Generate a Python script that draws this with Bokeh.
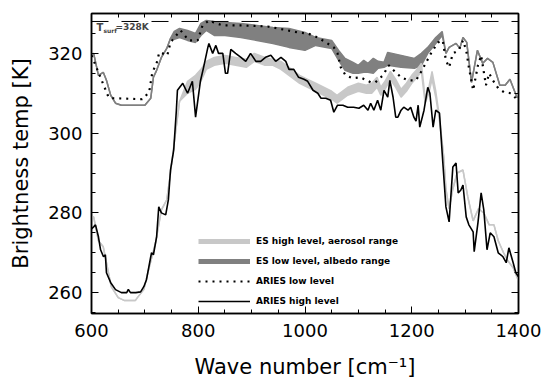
from bokeh.plotting import figure
from bokeh.models import (Range1d, LinearAxis, SingleIntervalTicker, Legend, LegendItem,
                          Label, Span)
from bokeh.embed import file_html
from bokeh.resources import INLINE

# ---------------- data ----------------
t_surf = 328.0

aries_high_wn = [600, 604, 607.5, 613, 617, 622.5, 626, 628, 636, 645, 656, 666, 669, 673, 683, 692,
                 698, 703, 711, 712.5, 716, 722, 726, 731, 739, 744, 748, 754, 759, 761, 771, 780,
                 789, 795, 804, 810, 818, 820, 827, 833, 838, 846, 851, 855, 861, 870, 880, 889,
                 898, 908, 917, 926, 936, 945, 955, 964, 970, 979, 988, 998, 1005, 1015, 1024,
                 1030, 1039, 1048, 1054, 1061, 1071, 1080, 1091, 1101, 1110, 1118, 1123, 1129,
                 1136, 1142, 1148, 1155, 1159, 1165, 1170, 1174, 1180, 1185, 1193, 1198, 1204,
                 1208, 1212, 1215, 1223, 1230, 1234, 1240, 1245, 1252, 1258, 1264, 1270, 1277,
                 1283, 1287, 1292, 1296, 1302, 1307, 1315, 1317, 1324, 1330, 1335, 1341, 1347,
                 1354, 1362, 1371, 1377, 1382, 1390, 1395, 1400]
aries_high_tb = [276, 276.5, 277, 274, 270.75, 269, 269.5, 265, 262.5, 260.75, 260, 260, 260.8, 260,
                 260, 260.2, 261.5, 263.25, 269, 270, 269.5, 274, 281.5, 280, 279.5, 283.25,
                 290.75, 295.75, 305.75, 310.75, 312.5, 310, 313, 304, 313, 316.5, 321.5, 322.5,
                 320, 322, 320, 320, 315, 315, 321, 320, 319, 318, 320, 318, 318, 319, 319.5, 318,
                 319, 318, 316, 316, 314, 313.5, 313, 310.75, 310, 308.75, 308.75, 308.25, 305.25,
                 307, 307, 306.5, 306.5, 306.25, 307, 305.75, 307.5, 305.75, 308.25, 305.75,
                 310.75, 309, 313.25, 309, 304, 304, 305.75, 306.5, 305.75, 306.5, 304, 303, 307,
                 301.5, 305.75, 311.5, 310, 301.5, 305.75, 305, 293, 281.5, 277.75, 291.5, 292.5,
                 285, 285.75, 287, 279, 277, 275.25, 270.25, 277.5, 285, 280.75, 270.75, 275, 274,
                 270, 269, 267.5, 271.25, 267.5, 265, 264]

aries_low_wn = [600, 613, 619, 632, 641, 695, 708, 714, 722, 727, 733, 742, 748, 754, 767, 782, 799,
                808, 820, 829, 846, 880, 930, 968, 987, 1005, 1024, 1054, 1061, 1067, 1076, 1089,
                1104, 1123, 1132, 1146, 1157, 1166, 1180, 1193, 1208, 1217, 1236, 1249, 1258,
                1264, 1270, 1277, 1288, 1296, 1302, 1307, 1315, 1324, 1330, 1339, 1345, 1352,
                1362, 1373, 1386, 1395, 1400]
aries_low_tb = [319.5, 315.25, 313.25, 309, 308.75, 308.5, 310.25, 315.25, 317.5, 320.25, 320,
                319.5, 322.75, 323.75, 325.75, 323.25, 323.25, 327, 328.25, 327.75, 327, 327,
                326.75, 325.75, 325.25, 325, 324, 321.5, 320, 316.5, 314.5, 313.75, 314, 312.75,
                312.75, 314.5, 317, 315.75, 314, 313.25, 313.25, 315.25, 320, 322.75, 323.25,
                318.25, 316.5, 320, 320.75, 323.25, 320.75, 316.5, 310.75, 317, 319.5, 312, 315,
                313.25, 311.25, 310.25, 310, 308.75, 308.5]

# ES high level, aerosol range (light grey): lower / upper edge
es_high_wn = [600, 604, 613, 622, 628, 637, 650, 662, 682, 686, 698, 707, 720, 731, 741, 748, 758,
              765, 780, 795, 805, 815, 830, 850, 870, 890, 905, 925, 940, 955, 970, 990, 1005,
              1020, 1035, 1050, 1060, 1070, 1080, 1100, 1115, 1125, 1135, 1142, 1150, 1160, 1170,
              1180, 1190, 1200, 1210, 1218, 1225, 1232, 1238, 1245, 1252, 1260, 1264, 1270, 1277,
              1285, 1296, 1305, 1315, 1325, 1335, 1345, 1354, 1362, 1372, 1380, 1390, 1400]
es_high_lo = [279, 279, 273, 271.5, 267.5, 261.5, 258.75, 258, 258, 258.75, 260.75, 265.75, 272.5,
              280.75, 283.25, 290, 300.75, 308, 310, 311, 313, 316, 317, 317.5, 317, 316.5, 318,
              317, 317, 316, 314.5, 312.5, 311.5, 310.5, 309.5, 308.5, 307.5, 308.5, 309.5, 310.5,
              310, 310, 311.5, 309.5, 311, 313.5, 311.5, 309, 310.5, 312.5, 314, 315.5, 307.5, 310,
              313.5, 309, 303, 294, 286, 281, 286, 290, 290.75, 284, 278, 281, 280, 277, 277, 273,
              270, 268, 266.25, 263]
es_high_hi = [279, 279, 273, 271.5, 267.5, 261.5, 258.75, 258, 258, 258.75, 260.75, 265.75, 272.5,
              280.75, 283.25, 290, 300.75, 308, 313, 314.5, 316, 318, 319, 319.5, 319, 318.5, 320,
              319, 318.5, 318, 316.5, 314.5, 313.5, 312.5, 311.5, 310.5, 309.5, 310.5, 311.5, 312.5,
              312, 312.5, 314, 311.5, 313, 315.5, 313.5, 311, 312.5, 314.5, 316, 317.5, 309, 311.5,
              315.5, 310.5, 304, 294, 286, 281, 286, 290, 290.75, 284, 278, 281, 280, 277, 277, 273,
              270, 268, 266.25, 263]

# ES low level, albedo range (dark grey): lower / upper edge
es_low_wn = [600, 604, 613, 622, 628, 636, 645, 656, 700, 711, 716, 722, 731, 741, 748, 755, 765,
             780, 795, 805, 815, 830, 850, 880, 910, 940, 970, 1000, 1020, 1050, 1063, 1075, 1090,
             1100, 1110, 1118, 1128, 1137, 1148, 1155, 1180, 1205, 1218, 1230, 1245, 1257, 1264,
             1270, 1283, 1290, 1296, 1303, 1312, 1323, 1333, 1342, 1352, 1365, 1375, 1384, 1397,
             1400]
es_low_lo = [319.5, 320, 314.5, 315.25, 313.25, 309.5, 307.5, 307, 307, 308.75, 314, 315.75, 319,
             321.25, 323.75, 323.5, 324, 323.25, 322.75, 324.5, 325.75, 324.5, 324.5, 324, 323.25,
             322.5, 321.5, 320.75, 322, 321.25, 318.25, 315.75, 315, 315, 315.25, 315.25, 315,
             316.25, 316.5, 317, 316.5, 316.25, 317, 320, 322.5, 324.5, 320, 321.5, 322.5, 321.25,
             324, 322.75, 312.75, 320.75, 317.5, 318.75, 317.75, 312, 312, 313.5, 309, 309]
es_low_hi = [319.5, 320, 314.5, 315.25, 313.25, 309.5, 307.5, 307, 307, 308.75, 314, 315.75, 319,
             321.25, 323.75, 325.5, 326.25, 325.75, 325, 327.5, 328.25, 328, 327.75, 327.5, 327,
             326.5, 326.25, 325.25, 324, 323.25, 320.75, 318.75, 317.75, 317, 318.25, 317.5,
             318.75, 318, 317.75, 320.25, 319.5, 318.75, 320, 321.5, 324, 325.5, 320, 321.5,
             322.5, 321.25, 324, 322.75, 312.75, 320.75, 317.5, 318.75, 317.75, 312, 312, 313.5,
             309, 309]

x_ticks_major = 200
y_ticks_major = 20
legend_labels = ["ES high level, aerosol range", "ES low level, albedo range",
                 "ARIES low level", "ARIES high level"]

# ---------------- figure ----------------
LIGHT = "#c8c8c8"
DARK = "#808080"
FONT = "DejaVu Sans"

p = figure(width=544, height=381, x_range=Range1d(600, 1400), y_range=Range1d(254.77, 330),
           output_backend="svg", toolbar_location=None,
           min_border_left=91, min_border_right=26, min_border_top=13, min_border_bottom=66)
p.grid.visible = False
p.outline_line_color = "black"
p.outline_line_width = 1.5
p.background_fill_color = "white"
p.border_fill_color = "white"

xt = SingleIntervalTicker(interval=x_ticks_major, num_minor_ticks=4)
yt = SingleIntervalTicker(interval=y_ticks_major, num_minor_ticks=4)


def style_axis(ax, show_labels):
    ax.axis_line_color = "black"
    ax.axis_line_width = 1.5
    ax.major_tick_in = 7
    ax.major_tick_out = 0
    ax.minor_tick_in = 4
    ax.minor_tick_out = 0
    ax.major_tick_line_color = "black"
    ax.minor_tick_line_color = "black"
    ax.major_label_text_font = FONT
    ax.major_label_text_font_size = "18px" if show_labels else "0px"
    ax.major_label_text_color = "black" if show_labels else None
    ax.axis_label_text_font = FONT
    ax.axis_label_text_font_size = "21px"
    ax.axis_label_text_font_style = "normal"
    ax.axis_label_text_color = "black"


xa = p.xaxis[0]
xa.ticker = xt
style_axis(xa, True)
xa.axis_label = "Wave number [cm\u207b\u00b9]"
xa.major_label_standoff = 10
xa.axis_label_standoff = 15

ya = p.yaxis[0]
ya.ticker = yt
style_axis(ya, True)
ya.axis_label = "Brightness temp [K]"
ya.major_label_standoff = 9
ya.axis_label_standoff = 12

top = LinearAxis(ticker=xt)
style_axis(top, False)
p.add_layout(top, "above")
right = LinearAxis(ticker=yt)
style_axis(right, False)
p.add_layout(right, "right")

# bands
p.varea(x=es_low_wn, y1=es_low_lo, y2=es_low_hi, fill_color=DARK)
p.line(es_low_wn, es_low_lo, line_color=DARK, line_width=1.5)
p.line(es_low_wn, es_low_hi, line_color=DARK, line_width=1.5)
p.varea(x=es_high_wn, y1=es_high_lo, y2=es_high_hi, fill_color=LIGHT)
p.line(es_high_wn, es_high_lo, line_color=LIGHT, line_width=1.5)
p.line(es_high_wn, es_high_hi, line_color=LIGHT, line_width=1.5)

# ARIES
r_low = p.line(aries_low_wn, aries_low_tb, line_color="black", line_width=2.2, line_dash="2 5")
r_high = p.line(aries_high_wn, aries_high_tb, line_color="black", line_width=1.6)

# legend-only thick lines (hidden)
r_leg_high = p.line(es_high_wn, es_high_lo, line_color=LIGHT, line_width=5, visible=False)
r_leg_low = p.line(es_low_wn, es_low_lo, line_color=DARK, line_width=5, visible=False)

# surface temperature
p.add_layout(Span(location=t_surf, dimension="width", line_color="black", line_width=1,
                  line_dash="17 13"))
p.add_layout(Label(x=600, y=t_surf, x_offset=5, y_offset=-1, text="T", text_baseline="top",
                   text_font=FONT, text_font_size="10px", text_font_style="bold"))
p.add_layout(Label(x=600, y=t_surf, x_offset=12, y_offset=-6, text="surf", text_baseline="top",
                   text_font=FONT, text_font_size="6px", text_font_style="bold"))
p.add_layout(Label(x=600, y=t_surf, x_offset=24, y_offset=-1, text="=328K", text_baseline="top",
                   text_font=FONT, text_font_size="9px", text_font_style="bold"))

legend = Legend(items=[LegendItem(label=legend_labels[0], renderers=[r_leg_high]),
                       LegendItem(label=legend_labels[1], renderers=[r_leg_low]),
                       LegendItem(label=legend_labels[2], renderers=[r_low]),
                       LegendItem(label=legend_labels[3], renderers=[r_high])],
                location=(107, 5), glyph_width=52, glyph_height=14, label_height=14,
                spacing=6, padding=0, margin=0, label_standoff=6,
                label_text_font=FONT, label_text_font_size="9px", label_text_font_style="bold",
                label_text_color="black",
                border_line_color=None, background_fill_alpha=0, click_policy="none")
p.add_layout(legend)

open("out.html", "w").write(file_html(p, INLINE))
